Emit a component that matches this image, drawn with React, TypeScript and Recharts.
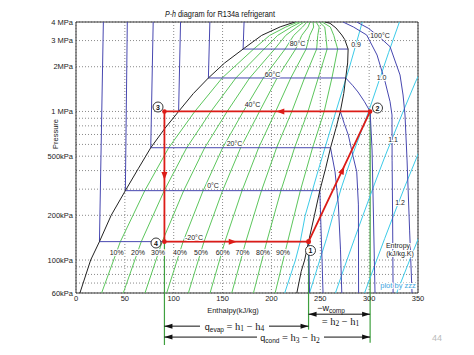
import React from 'react';
import {
  ScatterChart,
  Scatter,
  XAxis,
  YAxis,
  CartesianGrid,
  ReferenceLine,
  ReferenceDot,
  ReferenceArea,
} from 'recharts';

type Pt = { h: number; p: number };
const pts = (a: number[][]): Pt[] => a.map(([h, p]) => ({ h, p }));

// axes (enthalpy kJ/kg, pressure kPa)
const enthalpyTicks = [0, 50, 100, 150, 200, 250, 300, 350];
const pressureTicks = [60, 70, 80, 90, 100, 200, 300, 400, 500, 600, 700, 800, 900, 1000, 2000, 3000, 4000];
const pressureTickLabels: Record<number, string> = {
  60: '60kPa',
  100: '100kPa',
  200: '200kPa',
  500: '500kPa',
  1000: '1 MPa',
  2000: '2MPa',
  3000: '3 MPa',
  4000: '4 MPa',
};

// saturation dome
const satLiquid = pts([
  [4, 60], [15, 100], [24, 133], [36, 200], [50.5, 293], [64, 415], [76.5, 570], [91, 770],
  [105, 1000], [120, 1318], [135.5, 1680], [152, 2117], [171, 2630], [190, 3250], [209, 3710], [224, 4000],
]);
const satVapor = pts([
  [226, 60], [230.5, 84], [234, 100], [238, 133], [244, 200], [249.5, 293], [255.5, 415], [260.5, 570],
  [266, 770], [270.5, 1000], [274, 1320], [276, 1680], [278, 2120], [278.5, 2630], [275, 3050],
  [272, 3270], [266, 3650], [260, 3920], [255, 4000],
]);

// constant quality lines, pressures 60/133/293/570/1000/1680/2630/3250/3700/4000 kPa
const qualityPressures = [60, 133, 293, 570, 1000, 1680, 2630, 3250, 3700, 4000];
const quality10 = [26.2, 45.4, 70.4, 94.9, 121.6, 149.6, 181.8, 198.2, 214.7, 227.1];
const quality20 = [48.4, 66.8, 90.3, 113.3, 138.1, 163.6, 192.5, 206.4, 220.4, 230.2];
const quality30 = [70.6, 88.2, 110.2, 131.7, 154.7, 177.7, 203.3, 214.6, 226.1, 233.3];
const quality40 = [92.8, 109.6, 130.1, 150.1, 171.2, 191.7, 214.0, 222.8, 231.8, 236.4];
const quality50 = [115.0, 131.0, 150.0, 168.5, 187.8, 205.8, 224.8, 231.0, 237.5, 239.5];
const quality60 = [137.2, 152.4, 169.9, 186.9, 204.3, 219.8, 235.5, 239.2, 243.2, 242.6];
const quality70 = [159.4, 173.8, 189.8, 205.3, 220.9, 233.9, 246.3, 247.4, 248.9, 245.7];
const quality80 = [181.6, 195.2, 209.7, 223.7, 237.4, 247.9, 257.0, 255.6, 254.6, 248.8];
const quality90 = [203.8, 216.6, 229.6, 242.1, 254.0, 261.9, 267.8, 263.8, 260.3, 251.9];
const qualityLines = [quality10, quality20, quality30, quality40, quality50, quality60, quality70, quality80, quality90]
  .map((hs) => hs.map((h, i) => ({ h, p: qualityPressures[i] })));
const qualityNames = ['10%', '20%', '30%', '40%', '50%', '60%', '70%', '80%', '90%'];

// isotherms
const isoM20 = pts([[28, 4000], [24, 133], [238, 133], [238.5, 100], [239, 60]]);
const iso0 = pts([[52.5, 4000], [50.5, 293], [249.5, 293], [250.8, 159], [251.8, 100], [252.8, 60]]);
const iso20 = pts([[79, 4000], [76.5, 570], [260.5, 570], [265.1, 393], [268.5, 235], [270.7, 117], [272, 60]]);
const iso40 = pts([
  [107, 4000], [105, 1000], [270.5, 1000], [274.5, 830], [278.7, 694], [283.5, 500], [287.3, 393], [289, 235], [289.2, 60],
]);
const iso60 = pts([
  [137, 4000], [135.5, 1680], [276, 1680], [283, 1500], [288.6, 1352], [295, 1170], [301, 1000], [303, 550], [304.5, 186], [306, 60],
]);
const iso80 = pts([[172, 4000], [171, 2630], [278.5, 2630]]);
const iso80Vapor = pts([
  [273.3, 4000], [284, 3700], [297.5, 3270], [308.1, 2398], [316.3, 1587], [321.4, 1163], [323.4, 947], [323.5, 470], [324, 200], [324.5, 60],
]);
const iso100 = pts([
  [287.3, 4000], [299.2, 3630], [311, 3150], [321.4, 2728], [331.6, 1760], [334.7, 1291], [336.7, 946], [338.8, 471], [341.4, 159], [343.9, 60],
]);
const isotherms = [isoM20, iso0, iso20, iso40, iso60, iso80, iso80Vapor, iso100];
const isothermNames = ['-20°C', '0°C', '20°C', '40°C', '60°C', '80°C', '100°C'];

// isentropes (kJ/kg.K)
const s09 = pts([[213.6, 60], [224.6, 100], [229.5, 133], [234.6, 200], [247.8, 400], [266, 1000], [280, 2000], [287, 2900], [293, 4000]]);
const s10 = pts([[239, 60], [249.5, 100], [256.5, 140], [263, 200], [272.5, 320], [282.5, 500], [299.5, 1000], [310, 1600], [320, 2500], [331, 4000]]);
const s11 = pts([[265.5, 60], [277.3, 100], [285.2, 140], [293.7, 200], [305.1, 320], [316.3, 500], [334.8, 1000], [347.8, 1600], [358, 2200]]);
const s12 = pts([[295.3, 60], [307.7, 100], [316, 140], [325, 200], [337.2, 320], [349.2, 500], [360, 750]]);
const s13 = pts([[328.2, 60], [341.5, 100], [350.4, 140], [360, 200]]);
const isentropes = [s09, s10, s11, s12, s13];
const entropyNames = ['0.9', '1.0', '1.1', '1.2'];

// refrigeration cycle states 1..4
const h1 = 238, h2 = 301, h3 = 90.5;
const pEvap = 133, pCond = 1000;
const cycle = pts([[h1, pEvap], [h2, pCond], [h3, pCond], [h3, pEvap], [h1, pEvap]]);

const RED = '#dc1c17';
const BLUE = '#4747b0';
const GREEN = '#5cc65c';
const CYAN = '#3ccbe8';

const noDot = () => <g />;
const redDot = (props: any) => <circle cx={props.cx} cy={props.cy} r={2.3} fill={RED} />;

const arrowHead = (angle: number, fill: string, len = 8, half = 3) => (props: any) => {
  const { cx, cy } = props;
  return (
    <polygon
      points={`${cx},${cy} ${cx - len},${cy - half} ${cx - len},${cy + half}`}
      fill={fill}
      transform={`rotate(${angle} ${cx} ${cy})`}
    />
  );
};

const curve = (key: string, data: Pt[], stroke: string, width = 1) => (
  <Scatter
    key={key}
    data={data}
    fill={stroke}
    line={{ stroke, strokeWidth: width }}
    shape={noDot}
    legendType="none"
    isAnimationActive={false}
  />
);

const halo = { paintOrder: 'stroke' as const, stroke: '#fff', strokeWidth: 2.2, strokeLinejoin: 'round' as const };

export default function App() {
  const tempLabelPos = [[194, 239.5], [213, 187.5], [234.5, 145.5], [252.5, 106.5], [272.5, 76.5], [297.5, 45.5], [380, 37.5]];
  const qualityLabelX = [116.7, 138, 158, 180, 201, 222.7, 242.5, 263, 283];
  const entropyLabelPos = [[356, 46.5], [381.5, 79.5], [393, 141.5], [400, 205]];
  const stateCircles = [[310.5, 250.5, '1'], [377.5, 108, '2'], [158, 107, '3'], [156, 243, '4']] as const;

  return (
    <div style={{ position: 'absolute', left: 0, top: 0, width: 474, height: 355, background: '#fff' }}>
      <ScatterChart width={474} height={355} margin={{ top: 22, right: 56, bottom: 0, left: 0 }}>
        <CartesianGrid strokeDasharray="1 2" stroke="#8a8a8a" />
        <XAxis
          type="number"
          dataKey="h"
          domain={[0, 350]}
          ticks={enthalpyTicks}
          interval={0}
          allowDataOverflow
          height={62}
          tickLine={false}
          axisLine={false}
          tickSize={0}
          tickMargin={3}
          tick={{ fontSize: 7.5, fill: '#222', fontFamily: '"Liberation Sans", Arial, sans-serif' }}
        />
        <YAxis
          type="number"
          dataKey="p"
          scale="log"
          domain={[60, 4000]}
          ticks={pressureTicks}
          interval={0}
          allowDataOverflow
          width={76}
          tickLine={false}
          axisLine={false}
          tickSize={0}
          tickMargin={3}
          tickFormatter={(v: number) => pressureTickLabels[v] ?? ''}
          tick={{ fontSize: 7.5, fill: '#222', fontFamily: '"Liberation Sans", Arial, sans-serif' }}
        />

        {isentropes.map((d, i) => curve(`s${i}`, d, CYAN))}
        {qualityLines.map((d, i) => curve(`q${i}`, d, GREEN))}
        {isotherms.map((d, i) => curve(`t${i}`, d, BLUE))}
        {curve('liq', satLiquid, '#222')}
        {curve('vap', satVapor, '#222')}

        <ReferenceArea x1={0} x2={350} y1={60} y2={4000} fill="none" stroke="#333" strokeWidth={1} />

        {/* enthalpy markers below the chart */}
        <ReferenceLine segment={[{ x: h3, y: pEvap }, { x: h3, y: 26.8 }]} stroke="#3fa03f" strokeWidth={1.2} ifOverflow="visible" />
        <ReferenceLine segment={[{ x: h1, y: pEvap }, { x: h1, y: 34 }]} stroke="#3fa03f" strokeWidth={1.2} ifOverflow="visible" />
        <ReferenceLine segment={[{ x: h2, y: pCond }, { x: h2, y: 27.7 }]} stroke="#3fa03f" strokeWidth={1.2} ifOverflow="visible" />

        <ReferenceLine segment={[{ x: h1, y: 43.2 }, { x: h2, y: 43.2 }]} stroke="#111" strokeWidth={1} ifOverflow="visible" />
        <ReferenceLine segment={[{ x: h3, y: 35.9 }, { x: h1, y: 35.9 }]} stroke="#111" strokeWidth={1} ifOverflow="visible" />
        <ReferenceLine segment={[{ x: h3, y: 30.3 }, { x: h2, y: 30.3 }]} stroke="#111" strokeWidth={1} ifOverflow="visible" />
        <ReferenceDot x={h1} y={43.2} r={0} ifOverflow="visible" shape={arrowHead(180, '#111', 8, 2.5)} />
        <ReferenceDot x={h2} y={43.2} r={0} ifOverflow="visible" shape={arrowHead(0, '#111', 8, 2.5)} />
        <ReferenceDot x={h3} y={35.9} r={0} ifOverflow="visible" shape={arrowHead(180, '#111', 8, 2.5)} />
        <ReferenceDot x={h1} y={35.9} r={0} ifOverflow="visible" shape={arrowHead(0, '#111', 8, 2.5)} />
        <ReferenceDot x={h3} y={30.3} r={0} ifOverflow="visible" shape={arrowHead(180, '#111', 8, 2.5)} />
        <ReferenceDot x={h2} y={30.3} r={0} ifOverflow="visible" shape={arrowHead(0, '#111', 8, 2.5)} />

        <Scatter
          data={cycle}
          fill={RED}
          line={{ stroke: RED, strokeWidth: 1.8 }}
          shape={redDot}
          legendType="none"
          isAnimationActive={false}
        />
        <ReferenceDot x={205} y={pCond} r={0} ifOverflow="visible" shape={arrowHead(180, RED)} />
        <ReferenceDot x={h3} y={346} r={0} ifOverflow="visible" shape={arrowHead(90, RED)} />
        <ReferenceDot x={164.5} y={pEvap} r={0} ifOverflow="visible" shape={arrowHead(0, RED)} />
        <ReferenceDot x={274.6} y={426} r={0} ifOverflow="visible" shape={arrowHead(-64.7, RED)} />
      </ScatterChart>

      <svg
        width={474}
        height={355}
        style={{ position: 'absolute', left: 0, top: 0, pointerEvents: 'none' }}
        fontFamily='"Liberation Sans", Arial, sans-serif'
      >
        <text x={165} y={17} fontSize={8.5} fill="#111" fontStyle="italic" textLength={11} lengthAdjust="spacingAndGlyphs">P-h</text>
        <text x={178} y={17} fontSize={8.5} fill="#111" textLength={97} lengthAdjust="spacingAndGlyphs">diagram for R134a refrigerant</text>
        <text transform="translate(58,134) rotate(-90)" textAnchor="middle" fontSize={7.5} fill="#222">Pressure</text>
        <text x={233} y={313} textAnchor="middle" fontSize={7.5} fill="#222">Enthalpy(kJ/kg)</text>

        {isothermNames.map((t, i) => (
          <text key={t} x={tempLabelPos[i][0]} y={tempLabelPos[i][1]} textAnchor="middle" fontSize={7} fill="#222" style={halo}>{t}</text>
        ))}
        {qualityNames.map((t, i) => (
          <text key={t} x={qualityLabelX[i]} y={254.5} textAnchor="middle" fontSize={7} fill="#222" style={halo}>{t}</text>
        ))}
        {entropyNames.map((t, i) => (
          <text key={t} x={entropyLabelPos[i][0]} y={entropyLabelPos[i][1]} textAnchor="middle" fontSize={7} fill="#222" style={halo}>{t}</text>
        ))}
        <text x={398} y={247.5} textAnchor="middle" fontSize={7} fill="#222" style={halo}>Entropy</text>
        <text x={400} y={255.5} textAnchor="middle" fontSize={7} fill="#222" style={halo}>(kJ/kg.K)</text>
        <text x={398} y={287.5} textAnchor="middle" fontSize={7.5} fill="#3ea6de" style={halo}>plot by zzz</text>

        {stateCircles.map(([x, y, n]) => (
          <g key={n}>
            <circle cx={x} cy={y} r={5} fill="#fff" stroke="#222" strokeWidth={0.9} />
            <text x={x} y={y + 2.5} textAnchor="middle" fontSize={7} fontWeight="bold" fill="#111">{n}</text>
          </g>
        ))}

        <text x={331} y={310.5} textAnchor="middle" fontSize={9} fill="#111">
          −w<tspan fontSize={6.5} dy={2}>comp</tspan>
        </text>
        <text x={340.5} y={324.5} textAnchor="middle" fontSize={10.5} fill="#111" fontFamily='"Liberation Serif", serif'>
          = h<tspan fontSize={7.5} dy={1.5}>2</tspan><tspan dy={-1.5}> − h</tspan><tspan fontSize={7.5} dy={1.5}>1</tspan>
        </text>

        <rect x={200} y={319} width={69} height={13} fill="#fff" />
        <text x={234.5} y={329.5} textAnchor="middle" fontSize={10.5} fill="#111" fontFamily='"Liberation Serif", serif'>
          <tspan fontFamily='"Liberation Sans", Arial, sans-serif' fontSize={9}>q</tspan>
          <tspan fontFamily='"Liberation Sans", Arial, sans-serif' fontSize={6.5} dy={2}>evap</tspan>
          <tspan dy={-2}> = h</tspan><tspan fontSize={7.5} dy={1.5}>1</tspan><tspan dy={-1.5}> − h</tspan><tspan fontSize={7.5} dy={1.5}>4</tspan>
        </text>

        <rect x={257} y={331} width={67} height={13} fill="#fff" />
        <text x={290} y={341} textAnchor="middle" fontSize={10.5} fill="#111" fontFamily='"Liberation Serif", serif'>
          <tspan fontFamily='"Liberation Sans", Arial, sans-serif' fontSize={9}>q</tspan>
          <tspan fontFamily='"Liberation Sans", Arial, sans-serif' fontSize={6.5} dy={2}>cond</tspan>
          <tspan dy={-2}> = h</tspan><tspan fontSize={7.5} dy={1.5}>3</tspan><tspan dy={-1.5}> − h</tspan><tspan fontSize={7.5} dy={1.5}>2</tspan>
        </text>

        <text x={437} y={341} textAnchor="middle" fontSize={9} fill="#bbb">44</text>
      </svg>
    </div>
  );
}
